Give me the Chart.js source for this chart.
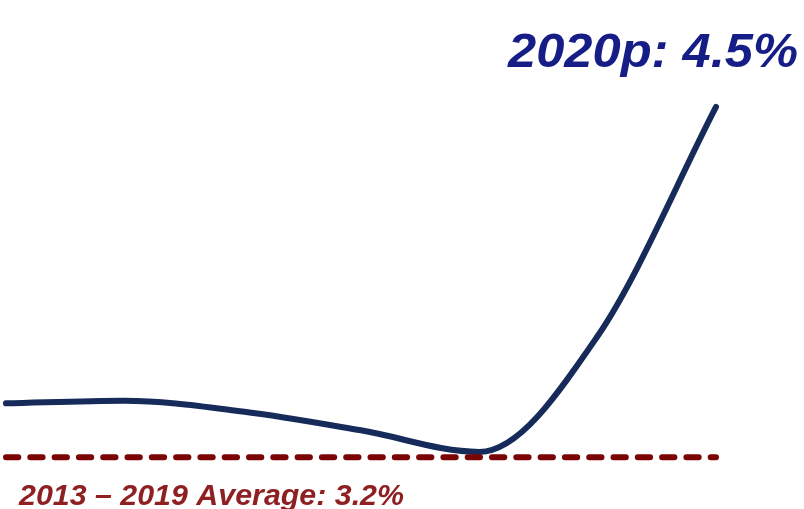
<!DOCTYPE html>
<html>
<head>
<meta charset="utf-8">
<script src="https://cdn.jsdelivr.net/npm/chart.js@4.4.1/dist/chart.umd.min.js"></script>
<style>
  html, body { margin: 0; padding: 0; background: #fff; }
  canvas { display: block; }
</style>
</head>
<body>
<canvas id="growthChart" width="804" height="509"></canvas>
<script>
// yearly growth, %
const years = ["2014", "2015", "2016", "2017", "2018", "2019", "2020p"];
const growth = [3.40, 3.41, 3.37, 3.30, 3.22, 3.65, 4.5];
const avgGrowth = [3.2, 3.2, 3.2, 3.2, 3.2, 3.2, 3.2];

const peakLabel = "2020p: 4.5%";
const avgLabel = "2013 \u2013 2019 Average: 3.2%";

// call-out texts drawn straight on the canvas
const calloutPlugin = {
  id: "callouts",
  afterDraw(chart) {
    const ctx = chart.ctx;
    ctx.save();
    ctx.textBaseline = "alphabetic";

    ctx.font = "italic bold 48px 'Liberation Sans', Arial, sans-serif";
    ctx.fillStyle = "#161d86";
    ctx.textAlign = "right";
    let w = ctx.measureText(peakLabel).width;
    ctx.save();
    ctx.translate(798, 67);
    ctx.scale(290 / w, 1);
    ctx.fillText(peakLabel, 0, 0);
    ctx.restore();

    ctx.font = "italic bold 30px 'Liberation Sans', Arial, sans-serif";
    ctx.fillStyle = "#8e2022";
    ctx.textAlign = "left";
    w = ctx.measureText(avgLabel).width;
    ctx.save();
    ctx.translate(19, 505);
    ctx.scale(385 / w, 1);
    ctx.fillText(avgLabel, 0, 0);
    ctx.restore();

    ctx.restore();
  }
};

new Chart(document.getElementById("growthChart"), {
  type: "line",
  data: {
    labels: years,
    datasets: [
      {
        label: "Average",
        data: avgGrowth,
        borderColor: "#7b0404",
        borderWidth: 6,
        borderDash: [12.3, 12],
        borderCapStyle: "round",
        tension: 0,
        pointRadius: 0,
        clip: false,
      },
      {
        label: "Growth",
        data: growth,
        borderColor: "#172b5b",
        borderWidth: 6,
        borderCapStyle: "round",
        borderJoinStyle: "round",
        cubicInterpolationMode: "monotone",
        pointRadius: 0,
        clip: false,
      },
    ],
  },
  options: {
    responsive: false,
    animation: false,
    devicePixelRatio: 1,
    layout: { padding: { left: 6, right: 88, top: 0, bottom: 0 } },
    plugins: {
      legend: { display: false },
      tooltip: { enabled: false },
    },
    scales: {
      x: { display: false, offset: false },
      y: { display: false, min: 3.008, max: 4.897 },
    },
  },
  plugins: [calloutPlugin],
});
</script>
</body>
</html>
